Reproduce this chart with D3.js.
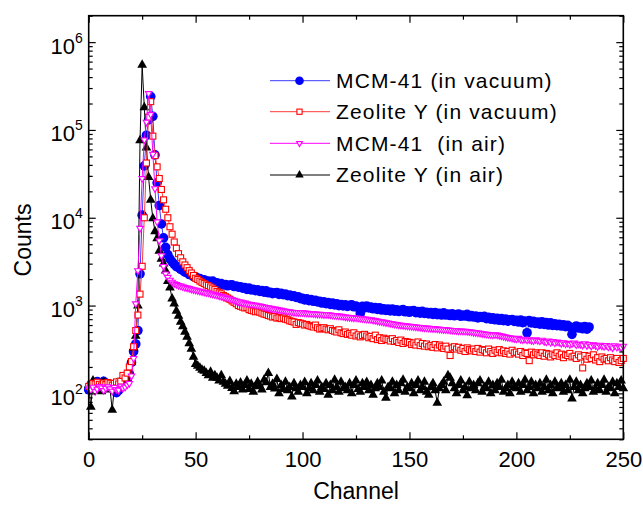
<!DOCTYPE html>
<html><head><meta charset="utf-8">
<script src="https://cdn.jsdelivr.net/npm/d3@7"></script>
<style>
body{margin:0;background:#fff}
text{font-family:"Liberation Sans",Arial,Helvetica,sans-serif;fill:#000}
</style>
</head><body>
<svg id="c" width="643" height="505"></svg>
<script>
// ---- data (counts per channel, starting at channel 0) ----
const mcmVacuum = [
110,118,126,131,136,132,128,137,131,127,
121,124,112,102,108,126,140,152,146,168,
225,300,365,520,2300,10700,39000,87000,130000,240000,
143000,52000,25000,13800,8500,5900,4600,3800,3400,3150,
2950,2780,2720,2580,2520,2400,2380,2260,2240,2140,
2120,2040,2030,1960,1960,1890,1900,1830,1900,1800,
1820,1760,1780,1720,1740,1680,1710,1720,1650,1670,
1620,1640,1580,1600,1530,1580,1510,1530,1480,1510,
1450,1480,1420,1470,1400,1420,1370,1400,1410,1340,
1380,1330,1350,1300,1320,1270,1290,1240,1260,1200,
1210,1160,1190,1140,1170,1120,1150,1100,1120,1070,
1100,1050,1080,1030,1070,1020,1050,1000,1030,990,
1020,980,1010,1020,970,990,950,810,980,940,
990,940,960,920,950,905,945,890,920,880,
910,870,915,865,895,855,885,900,850,870,
840,870,875,830,855,820,860,815,840,805,
830,795,835,790,815,780,825,780,800,770,
805,765,790,800,755,780,760,795,745,770,
740,760,725,750,735,755,710,735,700,725,
690,715,680,710,675,700,665,690,695,660,
680,650,685,640,665,490,675,635,660,625,
650,615,655,610,640,600,635,595,620,590,
610,585,605,575,595,570,470,560,585,555,
570,545,575,540,570];

const zeoVacuum = [
120,125,130,128,134,127,122,131,126,133,
129,124,130,135,128,138,160,150,170,200,
230,340,520,780,1350,2800,10000,42000,140000,210000,
85000,51000,38000,28000,21000,16000,12500,10000,7900,6500,
5300,4500,3900,3500,3150,2900,2700,2500,2350,2200,
2050,1980,1900,1840,1780,1720,1690,1630,1580,1520,
1450,1400,1360,1300,1260,1220,1180,1130,1090,1050,
1000,980,960,940,950,900,880,870,850,860,
840,820,800,790,770,760,740,750,720,730,
710,720,700,690,670,660,650,610,640,630,
620,600,610,590,580,570,600,560,540,550,
560,540,530,545,520,510,500,530,490,480,
500,470,480,460,490,450,465,440,455,470,
450,430,445,420,460,410,430,400,425,415,
410,395,420,390,400,380,405,370,390,385,
380,360,375,355,385,350,370,345,365,340,
350,335,360,330,355,340,325,345,320,270,
330,340,320,335,310,325,300,330,315,305,
320,300,325,295,315,310,290,320,300,285,
310,295,315,290,305,285,300,280,310,290,
295,280,300,270,290,285,236,295,275,290,
280,270,290,265,285,275,260,280,270,290,
265,280,255,275,270,285,260,265,250,275,
260,195,270,245,265,250,275,240,255,230,
260,245,250,235,255,240,230,250,225,236,
250];

const mcmAir = [
115,110,118,105,112,120,116,108,114,119,
113,106,117,111,109,121,115,118,125,130,
158,250,1050,2500,7600,28000,77000,123000,260000,150000,
53000,21500,9000,5500,3700,2800,2300,2100,1950,1850,
1780,1740,1700,1670,1640,1610,1590,1570,1540,1520,
1500,1480,1460,1440,1420,1400,1390,1370,1350,1330,
1310,1290,1270,1250,1230,1210,1190,1170,1150,1130,
1110,1100,1080,1070,1050,1040,1030,1020,1010,1000,
990,975,965,955,945,935,925,915,905,895,
885,875,865,855,850,840,835,830,832,828,
830,825,820,815,812,808,805,800,797,793,
790,786,790,785,775,770,765,760,755,750,
745,740,735,730,725,722,718,712,708,704,
700,695,690,683,676,670,662,655,648,640,
634,628,622,616,610,604,600,595,590,585,
582,578,575,572,568,565,562,558,555,552,
550,547,544,541,538,535,532,530,527,524,
522,520,518,516,514,512,510,508,505,500,
496,492,488,484,480,476,472,468,465,462,
466,462,458,452,445,440,435,430,425,420,
418,425,412,408,415,405,410,402,398,408,
400,395,405,390,385,395,380,390,375,385,
380,370,378,365,372,360,368,375,358,365,
362,355,368,350,360,345,358,352,340,355,
348,342,352,338,345,330,350,335,340,332,
345];

const zeoAir = [
125,70,140,110,120,130,105,135,115,125,
110,65,120,130,115,125,140,130,150,175,
225,330,450,1000,76000,550000,180000,63000,29000,16000,
9800,7000,5800,4200,3400,3000,2500,1900,1600,1200,
1050,870,760,650,580,500,440,370,320,260,
215,205,195,185,180,170,160,175,150,160,
150,140,160,135,128,122,138,115,105,128,
118,132,110,124,140,112,128,104,120,135,
122,110,142,133,170,118,128,113,145,100,
124,112,135,108,118,92,130,114,104,124,
118,134,100,114,130,108,124,140,104,118,
112,130,96,124,108,142,118,104,135,114,
118,108,130,100,124,140,112,104,130,118,
134,108,124,96,114,130,118,140,104,89,
118,114,135,100,124,108,130,142,104,118,
114,130,100,124,140,108,118,135,104,96,
118,130,108,78,114,124,135,108,160,150,
130,114,100,124,140,108,118,95,135,114,
124,108,130,140,104,118,114,135,100,124,
108,130,118,142,104,114,124,100,135,118,
114,130,104,124,142,108,118,135,100,124,
114,130,104,118,142,108,124,100,135,114,
118,130,104,124,108,142,87,118,135,108,
124,100,114,130,118,140,104,114,130,108,
124,142,104,118,114,135,100,130,118,140,
114];

const seriesNames = ["MCM-41 (in vacuum)", "Zeolite Y (in vacuum)", "MCM-41  (in air)", "Zeolite Y (in air)"];
const xMajorTicks = [0, 50, 100, 150, 200, 250];
const xMinorTicks = [25, 75, 125, 175, 225];
const yDecadeTicks = [1e2, 1e3, 1e4, 1e5, 1e6];
const yExponents = ["2", "3", "4", "5", "6"];

// ---- styling ----
const styles = [
  {data: mcmVacuum, color: "#0000ff", line: "#3a3aff", shape: "circle"},
  {data: zeoVacuum, color: "#ff0000", line: "#ff3b3b", shape: "square"},
  {data: mcmAir, color: "#ff00ff", line: "#ff00ff", shape: "tridown"},
  {data: zeoAir, color: "#000000", line: "#000000", shape: "triup"}
];
styles.forEach((s, i) => s.name = seriesNames[i]);

const L = 88.7, R = 623.3, T = 15.7, B = 439.3;
const svg = d3.select("#c");
const x = d3.scaleLinear().domain([0, 250]).range([L, R]);
const y = d3.scaleLog().domain([30, 2e6]).range([B, T]);

function drawMarker(g, shape, color, cx, cy, k) {
  if (shape === "circle") {
    g.append("circle").attr("cx", cx).attr("cy", cy).attr("r", 4.3 * k).attr("fill", color);
  } else if (shape === "square") {
    const h = 2.6 * k;
    g.append("rect").attr("x", cx - h).attr("y", cy - h).attr("width", 2 * h).attr("height", 2 * h)
      .attr("fill", "#fff").attr("stroke", color).attr("stroke-width", 1.1);
  } else if (shape === "tridown") {
    const s = 5.8 * k, h = 5.0 * k;
    g.append("path").attr("d", `M${cx - s/2},${cy - h/3}L${cx + s/2},${cy - h/3}L${cx},${cy + 2*h/3}Z`)
      .attr("fill", "#fff").attr("stroke", color).attr("stroke-width", 1.1);
  } else {
    const s = 8.4 * k, h = 7.4 * k;
    g.append("path").attr("d", `M${cx - s/2},${cy + h/3}L${cx + s/2},${cy + h/3}L${cx},${cy - 2*h/3}Z`)
      .attr("fill", color);
  }
}

// draw order: blue, black, red, magenta
const order = [0, 3, 1, 2];
const plotScale = [1.12, 1.15, 1.12, 1.15];
const line = d3.line().x((d, i) => x(i)).y(d => y(d));
order.forEach(k => {
  const s = styles[k];
  const g = svg.append("g");
  g.append("path").attr("d", line(s.data)).attr("fill", "none")
    .attr("stroke", s.line).attr("stroke-width", 1);
  s.data.forEach((v, i) => drawMarker(g, s.shape, s.color, x(i), y(v), plotScale[k]));
});

// ---- axes ----
function styleAxis(g) {
  g.select(".domain").remove();
  g.selectAll(".tick line").attr("stroke", "#000").attr("stroke-width", 1.2);
  g.selectAll("text").attr("font-size", 22).attr("font-family", '"Liberation Sans",Arial,sans-serif');
}
svg.append("g").attr("transform", `translate(0,${B})`)
  .call(d3.axisBottom(x).tickValues(xMajorTicks).tickSizeInner(-7).tickSizeOuter(0).tickPadding(12).tickFormat(d3.format("d")))
  .call(styleAxis);
svg.append("g").attr("transform", `translate(0,${B})`)
  .call(d3.axisBottom(x).tickValues(xMinorTicks).tickSizeInner(-4).tickSizeOuter(0).tickFormat(""))
  .call(styleAxis);
svg.append("g").attr("transform", `translate(0,${T})`)
  .call(d3.axisTop(x).tickValues(xMajorTicks).tickSizeInner(-7).tickSizeOuter(0).tickFormat(""))
  .call(styleAxis);
svg.append("g").attr("transform", `translate(0,${T})`)
  .call(d3.axisTop(x).tickValues(xMinorTicks).tickSizeInner(-4).tickSizeOuter(0).tickFormat(""))
  .call(styleAxis);

const yMinor = [];
[10, 100, 1000, 1e4, 1e5, 1e6].forEach(dec => {
  for (let m = 2; m <= 9; m++) { const v = m * dec; if (v >= 30 && v <= 2e6) yMinor.push(v); }
});
const leftMajor = svg.append("g").attr("transform", `translate(${L},0)`)
  .call(d3.axisLeft(y).tickValues(yDecadeTicks).tickSizeInner(-7).tickSizeOuter(0).tickPadding(6).tickFormat(""))
  .call(styleAxis);
leftMajor.selectAll(".tick").each(function(d, i) {
  const t = d3.select(this).select("text").attr("dy", null).attr("y", 11).attr("font-size", 22);
  t.append("tspan").text("10");
  t.append("tspan").attr("font-size", 14).attr("dy", -11).text(yExponents[i]);
});
svg.append("g").attr("transform", `translate(${L},0)`)
  .call(d3.axisLeft(y).tickValues(yMinor).tickSizeInner(-4).tickSizeOuter(0).tickFormat(""))
  .call(styleAxis);
svg.append("g").attr("transform", `translate(${R},0)`)
  .call(d3.axisRight(y).tickValues(yDecadeTicks).tickSizeInner(-7).tickSizeOuter(0).tickFormat(""))
  .call(styleAxis);
svg.append("g").attr("transform", `translate(${R},0)`)
  .call(d3.axisRight(y).tickValues(yMinor).tickSizeInner(-4).tickSizeOuter(0).tickFormat(""))
  .call(styleAxis);

// frame
svg.append("rect").attr("x", L).attr("y", T).attr("width", R - L).attr("height", B - T)
  .attr("fill", "none").attr("stroke", "#000").attr("stroke-width", 1.6);

// axis titles
svg.append("text").attr("x", (L + R) / 2).attr("y", 499).attr("text-anchor", "middle")
  .attr("font-size", 23).text("Channel");
svg.append("text").attr("transform", "translate(31,240) rotate(-90)").attr("text-anchor", "middle")
  .attr("font-size", 23).text("Counts");

// legend
const legY = [80.7, 111.7, 143.3, 175];
const leg = svg.append("g");
styles.forEach((s, i) => {
  const yy = legY[i];
  leg.append("line").attr("x1", 270).attr("x2", 330).attr("y1", yy).attr("y2", yy)
    .attr("stroke", s.line).attr("stroke-width", 1);
  drawMarker(leg, s.shape, s.color, 299.5, yy, 1);
  leg.append("text").attr("x", 336).attr("y", yy + 7.3).attr("font-size", 21)
    .attr("letter-spacing", 1.15).style("white-space", "pre").text(s.name);
});
</script>
</body></html>
